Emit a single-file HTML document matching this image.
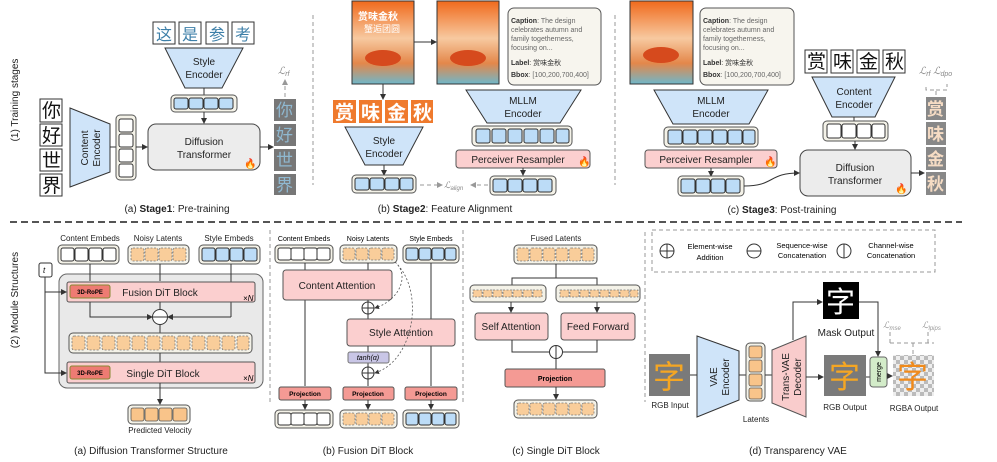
<!DOCTYPE html>
<html><head><meta charset="utf-8"><style>
body{margin:0;background:#fff}
svg{display:block;font-family:"Liberation Sans","Noto Sans CJK SC",sans-serif}
.t{font-size:10px;fill:#222}
.s{font-size:8px;fill:#222}
.o{fill:#f4f2e8;stroke:#555;stroke-width:1}
.w{fill:#fff;stroke:#333;stroke-width:1}
.b{fill:#bcdcf7;stroke:#333;stroke-width:1}
.n{fill:#f9cd9a;stroke:#777;stroke-width:.8;stroke-dasharray:2 1.5}
.enc{fill:#cfe4f9;stroke:#333;stroke-width:1}
.pk{fill:#fbcfcf;stroke:#555;stroke-width:1}
.pj{fill:#f49a94;stroke:#555;stroke-width:1}
.ln{stroke:#333;stroke-width:1;fill:none}
.dl{stroke:#999;stroke-width:1;stroke-dasharray:4 3;fill:none}
.ch{font-size:19px;fill:#111}
</style></head><body>
<svg width="997" height="462" viewBox="0 0 997 462">
<defs><marker id="a" markerWidth="6" markerHeight="6" refX="5" refY="3" orient="auto"><path d="M0,0L6,3L0,6z" fill="#333"/></marker>
<marker id="g" markerWidth="6" markerHeight="6" refX="5" refY="3" orient="auto"><path d="M0,0L6,3L0,6z" fill="#999"/></marker>
<pattern id="ck" width="8" height="8" patternUnits="userSpaceOnUse"><rect width="8" height="8" fill="#eee"/><rect width="4" height="4" fill="#bbb"/><rect x="4" y="4" width="4" height="4" fill="#bbb"/></pattern>
<linearGradient id="pos" x1="0" y1="0" x2="0" y2="1"><stop offset="0" stop-color="#f06a1c"/><stop offset=".45" stop-color="#f7c9a0"/><stop offset=".75" stop-color="#e4874a"/><stop offset="1" stop-color="#6fb7c9"/></linearGradient></defs>

<!-- Section labels -->
<text class="t" transform="translate(18,100) rotate(-90)" text-anchor="middle">(1) Training stages</text>
<text class="t" transform="translate(18,300) rotate(-90)" text-anchor="middle">(2) Module Structures</text>

<!-- Stage 1 -->
<g class="ch"><rect x="40" y="99" width="22" height="23" class="w"/><text x="42" y="117">你</text>
<rect x="40" y="124" width="22" height="22" class="w"/><text x="42" y="142">好</text>
<rect x="40" y="149" width="22" height="22" class="w"/><text x="42" y="167">世</text>
<rect x="40" y="174" width="22" height="22" class="w"/><text x="42" y="192">界</text></g>
<path d="M70,108L110,124L110,172L70,187z" class="enc"/>
<text class="t" transform="translate(88,148) rotate(-90)" text-anchor="middle">Content</text>
<text class="t" transform="translate(100,148) rotate(-90)" text-anchor="middle">Encoder</text>
<line x1="110" y1="147" x2="116" y2="147" class="ln"/>
<rect x="116" y="115" width="20" height="65" rx="4" class="o"/>
<rect x="119" y="119" width="14" height="13" rx="2" class="w"/><rect x="119" y="134" width="14" height="13" rx="2" class="w"/><rect x="119" y="149" width="14" height="13" rx="2" class="w"/><rect x="119" y="164" width="14" height="13" rx="2" class="w"/>
<line x1="136" y1="147" x2="147" y2="147" class="ln" marker-end="url(#a)"/>
<rect x="148" y="124" width="112" height="46" rx="8" fill="#ececec" stroke="#444"/>
<text class="t" x="204" y="145" text-anchor="middle">Diffusion</text><text class="t" x="204" y="158" text-anchor="middle">Transformer</text>
<text x="244" y="167" font-size="10">🔥</text>
<g font-size="16" fill="#3d7fa8"><rect x="153" y="22" width="22" height="22" class="w"/><text x="156" y="40">这</text><rect x="179" y="22" width="22" height="22" class="w"/><text x="182" y="40">是</text><rect x="206" y="22" width="22" height="22" class="w"/><text x="209" y="40">参</text><rect x="232" y="22" width="22" height="22" class="w"/><text x="235" y="40">考</text></g>
<path d="M165,48L243,48L222,88L185,88z" class="enc"/>
<text class="t" x="204" y="65" text-anchor="middle">Style</text><text class="t" x="204" y="78" text-anchor="middle">Encoder</text>
<line x1="204" y1="88" x2="204" y2="95" class="ln"/>
<rect x="171" y="95" width="66" height="17" rx="4" class="o"/>
<rect x="174" y="98" width="14" height="11" rx="2" class="b"/><rect x="189" y="98" width="14" height="11" rx="2" class="b"/><rect x="204" y="98" width="14" height="11" rx="2" class="b"/><rect x="219" y="98" width="14" height="11" rx="2" class="b"/>
<line x1="204" y1="112" x2="204" y2="123" class="ln" marker-end="url(#a)"/>
<line x1="260" y1="147" x2="273" y2="147" class="ln" marker-end="url(#a)"/>
<g font-size="17" fill="#8fb8d0"><rect x="274" y="99" width="22" height="22" fill="#777"/><text x="276" y="116">你</text><rect x="274" y="124" width="22" height="22" fill="#777"/><text x="276" y="141">好</text><rect x="274" y="149" width="22" height="22" fill="#777"/><text x="276" y="166">世</text><rect x="274" y="174" width="22" height="21" fill="#777"/><text x="276" y="191">界</text></g>
<line x1="285" y1="97" x2="285" y2="80" class="dl" marker-end="url(#g)"/>
<text x="278" y="74" font-size="10" font-style="italic" fill="#888">ℒ<tspan font-size="7" dy="2">rf</tspan></text>
<text class="t" x="177" y="212" text-anchor="middle">(a) <tspan font-weight="bold">Stage1</tspan>: Pre-training</text>
<line x1="313" y1="15" x2="313" y2="185" class="dl"/>

<!-- Stage 2 -->
<rect x="352" y="1" width="62" height="83" fill="url(#pos)" stroke="#333"/>
<text x="358" y="20" font-size="10" fill="#fff" font-weight="bold">赏味金秋</text><text x="364" y="32" font-size="9" fill="#fff">蟹逅团圆</text>
<ellipse cx="383" cy="58" rx="18" ry="8" fill="#d64a1d"/>
<line x1="414" y1="42" x2="436" y2="42" class="ln" marker-end="url(#a)"/>
<rect x="437" y="1" width="62" height="83" fill="url(#pos)" stroke="#333"/>
<ellipse cx="468" cy="58" rx="18" ry="8" fill="#d64a1d"/>
<g font-size="7" fill="#333"><rect x="508" y="8" width="93" height="77" rx="6" fill="#f7f5ee" stroke="#555"/>
<text x="511" y="23"><tspan font-weight="bold">Caption</tspan><tspan fill="#666">: The design</tspan></text><text x="511" y="32" fill="#666">celebrates autumn and</text><text x="511" y="41" fill="#666">family togetherness,</text><text x="511" y="50" fill="#666">focusing on...</text>
<text x="511" y="65"><tspan font-weight="bold">Label</tspan>: 赏味金秋</text><text x="511" y="77"><tspan font-weight="bold">Bbox</tspan><tspan fill="#666">: [100,200,700,400]</tspan></text></g>
<line x1="383" y1="84" x2="383" y2="99" class="ln" marker-end="url(#a)"/>
<g font-size="19" fill="#fff" font-weight="bold"><rect x="333" y="100" width="23" height="23" fill="#ef7a2d"/><text x="335" y="119">赏</text><rect x="359" y="100" width="23" height="23" fill="#ef7a2d"/><text x="361" y="119">味</text><rect x="385" y="100" width="23" height="23" fill="#ef7a2d"/><text x="387" y="119">金</text><rect x="411" y="100" width="22" height="23" fill="#ef7a2d"/><text x="413" y="119">秋</text></g>
<path d="M345,127L423,127L403,165L365,165z" class="enc"/>
<text class="t" x="384" y="144" text-anchor="middle">Style</text><text class="t" x="384" y="157" text-anchor="middle">Encoder</text>
<line x1="384" y1="165" x2="384" y2="175" class="ln" marker-end="url(#a)"/>
<rect x="352" y="175" width="64" height="18" rx="4" class="o"/>
<rect x="355" y="178" width="14" height="12" rx="2" class="b"/><rect x="370" y="178" width="14" height="12" rx="2" class="b"/><rect x="385" y="178" width="14" height="12" rx="2" class="b"/><rect x="400" y="178" width="13" height="12" rx="2" class="b"/>
<line x1="420" y1="185" x2="442" y2="185" class="dl" marker-end="url(#g)"/>
<line x1="488" y1="185" x2="471" y2="185" class="dl" marker-end="url(#g)"/>
<text x="444" y="188" font-size="9" font-style="italic" fill="#888">ℒ<tspan font-size="6" dy="2">align</tspan></text>
<path d="M466,90L581,90L560,123L487,123z" class="enc"/>
<text class="t" x="523" y="104" text-anchor="middle">MLLM</text><text class="t" x="523" y="117" text-anchor="middle">Encoder</text>
<rect x="472" y="126" width="100" height="20" rx="4" class="o"/>
<g class="b"><rect x="476" y="129" width="14" height="14" rx="2"/><rect x="492" y="129" width="14" height="14" rx="2"/><rect x="508" y="129" width="14" height="14" rx="2"/><rect x="524" y="129" width="14" height="14" rx="2"/><rect x="540" y="129" width="14" height="14" rx="2"/><rect x="556" y="129" width="13" height="14" rx="2"/></g>
<rect x="456" y="150" width="134" height="18" rx="3" class="pk"/>
<text class="t" x="518" y="163" text-anchor="middle">Perceiver Resampler</text><text x="578" y="165" font-size="10">🔥</text>
<line x1="523" y1="168" x2="523" y2="175" class="ln" marker-end="url(#a)"/>
<rect x="490" y="176" width="66" height="19" rx="4" class="o"/>
<g class="b"><rect x="493" y="179" width="14" height="13" rx="2"/><rect x="508" y="179" width="14" height="13" rx="2"/><rect x="523" y="179" width="14" height="13" rx="2"/><rect x="538" y="179" width="14" height="13" rx="2"/></g>
<text class="t" x="445" y="212" text-anchor="middle">(b) <tspan font-weight="bold">Stage2</tspan>: Feature Alignment</text>
<line x1="615" y1="15" x2="615" y2="185" class="dl"/>

<!-- Stage 3 -->
<rect x="630" y="1" width="63" height="83" fill="url(#pos)" stroke="#333"/>
<ellipse cx="661" cy="55" rx="18" ry="8" fill="#d64a1d"/>
<g font-size="7" fill="#333"><rect x="700" y="8" width="94" height="77" rx="6" fill="#f7f5ee" stroke="#555"/>
<text x="703" y="23"><tspan font-weight="bold">Caption</tspan><tspan fill="#666">: The design</tspan></text><text x="703" y="32" fill="#666">celebrates autumn and</text><text x="703" y="41" fill="#666">family togetherness,</text><text x="703" y="50" fill="#666">focusing on...</text>
<text x="703" y="65"><tspan font-weight="bold">Label</tspan>: 赏味金秋</text><text x="703" y="77"><tspan font-weight="bold">Bbox</tspan><tspan fill="#666">: [100,200,700,400]</tspan></text></g>
<path d="M654,90L768,90L749,124L673,124z" class="enc"/>
<text class="t" x="711" y="104" text-anchor="middle">MLLM</text><text class="t" x="711" y="117" text-anchor="middle">Encoder</text>
<rect x="664" y="127" width="94" height="20" rx="4" class="o"/>
<g class="b"><rect x="668" y="130" width="14" height="14" rx="2"/><rect x="683" y="130" width="14" height="14" rx="2"/><rect x="698" y="130" width="14" height="14" rx="2"/><rect x="713" y="130" width="14" height="14" rx="2"/><rect x="728" y="130" width="14" height="14" rx="2"/><rect x="743" y="130" width="12" height="14" rx="2"/></g>
<rect x="645" y="150" width="132" height="18" rx="3" class="pk"/>
<text class="t" x="706" y="163" text-anchor="middle">Perceiver Resampler</text><text x="764" y="165" font-size="10">🔥</text>
<line x1="711" y1="168" x2="711" y2="176" class="ln" marker-end="url(#a)"/>
<rect x="678" y="176" width="66" height="20" rx="4" class="o"/>
<g class="b"><rect x="681" y="179" width="14" height="14" rx="2"/><rect x="696" y="179" width="14" height="14" rx="2"/><rect x="711" y="179" width="14" height="14" rx="2"/><rect x="726" y="179" width="14" height="14" rx="2"/></g>
<path d="M744,186C775,186 768,173 799,173" class="ln" marker-end="url(#a)"/>
<g class="ch"><rect x="805" y="50" width="22" height="23" class="w"/><text x="807" y="68">赏</text><rect x="831" y="50" width="22" height="23" class="w"/><text x="833" y="68">味</text><rect x="857" y="50" width="22" height="23" class="w"/><text x="859" y="68">金</text><rect x="883" y="50" width="22" height="23" class="w"/><text x="885" y="68">秋</text></g>
<path d="M812,77L895,77L875,117L832,117z" class="enc"/>
<text class="t" x="854" y="95" text-anchor="middle">Content</text><text class="t" x="854" y="108" text-anchor="middle">Encoder</text>
<line x1="854" y1="117" x2="854" y2="121" class="ln"/>
<rect x="823" y="121" width="65" height="20" rx="4" class="o"/>
<g class="w"><rect x="827" y="124" width="14" height="14" rx="2"/><rect x="842" y="124" width="14" height="14" rx="2"/><rect x="857" y="124" width="14" height="14" rx="2"/><rect x="872" y="124" width="13" height="14" rx="2"/></g>
<line x1="855" y1="141" x2="855" y2="149" class="ln" marker-end="url(#a)"/>
<rect x="800" y="150" width="111" height="46" rx="8" fill="#ececec" stroke="#444"/>
<text class="t" x="855" y="171" text-anchor="middle">Diffusion</text><text class="t" x="855" y="184" text-anchor="middle">Transformer</text>
<text x="895" y="192" font-size="10">🔥</text>
<line x1="911" y1="173" x2="924" y2="173" class="ln" marker-end="url(#a)"/>
<g font-size="17" fill="#f6dcc4" font-weight="bold"><rect x="926" y="97" width="20" height="23" fill="#888"/><text x="927" y="115">赏</text><rect x="926" y="122" width="20" height="23" fill="#888"/><text x="927" y="140">味</text><rect x="926" y="147" width="20" height="23" fill="#888"/><text x="927" y="165">金</text><rect x="926" y="172" width="20" height="23" fill="#888"/><text x="927" y="190">秋</text></g>
<path d="M936,95V90H926V84M936,90H947V84" class="dl"/>
<text x="919" y="74" font-size="10" font-style="italic" fill="#888">ℒ<tspan font-size="7" dy="2">rf</tspan><tspan dy="-2"> ℒ</tspan><tspan font-size="7" dy="2">dpo</tspan></text>
<text class="t" x="782" y="213" text-anchor="middle">(c) <tspan font-weight="bold">Stage3</tspan>: Post-training</text>

<line x1="10" y1="222" x2="962" y2="222" stroke="#555" stroke-width="2" stroke-dasharray="7 4"/>

<!-- (a) DiT structure -->
<text class="s" x="90" y="241" text-anchor="middle">Content Embeds</text><text class="s" x="158" y="241" text-anchor="middle">Noisy Latents</text><text class="s" x="229" y="241" text-anchor="middle">Style Embeds</text>
<rect x="58" y="245" width="61" height="19" rx="4" class="o"/><g class="w"><rect x="61" y="248" width="13" height="13" rx="2"/><rect x="75" y="248" width="13" height="13" rx="2"/><rect x="89" y="248" width="13" height="13" rx="2"/><rect x="103" y="248" width="13" height="13" rx="2"/></g>
<rect x="128" y="245" width="61" height="19" rx="4" class="o"/><g class="n"><rect x="131" y="248" width="13" height="13" rx="2"/><rect x="145" y="248" width="13" height="13" rx="2"/><rect x="159" y="248" width="13" height="13" rx="2"/><rect x="173" y="248" width="13" height="13" rx="2"/></g>
<rect x="199" y="245" width="61" height="19" rx="4" class="o"/><g class="b"><rect x="202" y="248" width="13" height="13" rx="2"/><rect x="216" y="248" width="13" height="13" rx="2"/><rect x="230" y="248" width="13" height="13" rx="2"/><rect x="244" y="248" width="13" height="13" rx="2"/></g>
<rect x="39" y="263" width="13" height="14" rx="2" class="w"/><text x="43" y="273" font-size="8" font-style="italic">t</text>
<rect x="59" y="274" width="204" height="114" rx="8" fill="#e9e9e9" stroke="#666"/>
<line x1="90" y1="264" x2="90" y2="281" class="ln"/><line x1="160" y1="264" x2="160" y2="281" class="ln"/><line x1="231" y1="264" x2="231" y2="317" class="ln"/>
<rect x="67" y="282" width="188" height="20" rx="2" class="pk"/>
<rect x="70" y="285" width="40" height="13" rx="2" fill="#ee7b73" stroke="#883"/><text x="90" y="294" font-size="6" text-anchor="middle" font-weight="bold">3D-RoPE</text>
<text class="t" x="160" y="296" text-anchor="middle">Fusion DiT Block</text><text x="243" y="301" font-size="8" font-style="italic">×N</text>
<path d="M45,277V292H66" class="ln" marker-end="url(#a)"/><path d="M45,292V373H66" class="ln" marker-end="url(#a)"/>
<path d="M90,302V317H152" class="ln" marker-end="url(#a)"/><path d="M231,317H168" class="ln" marker-end="url(#a)"/>
<circle cx="160" cy="317" r="7.5" fill="#fff" stroke="#333"/><line x1="152.5" y1="317" x2="167.5" y2="317" stroke="#333"/>
<line x1="160" y1="302" x2="160" y2="309" class="ln"/><line x1="160" y1="325" x2="160" y2="333" class="ln"/>
<rect x="69" y="333" width="183" height="20" rx="4" class="o"/>
<g class="n"><rect x="72" y="336" width="13" height="14" rx="2"/><rect x="87" y="336" width="13" height="14" rx="2"/><rect x="102" y="336" width="13" height="14" rx="2"/><rect x="117" y="336" width="13" height="14" rx="2"/><rect x="132" y="336" width="13" height="14" rx="2"/><rect x="147" y="336" width="13" height="14" rx="2"/><rect x="162" y="336" width="13" height="14" rx="2"/><rect x="177" y="336" width="13" height="14" rx="2"/><rect x="192" y="336" width="13" height="14" rx="2"/><rect x="207" y="336" width="13" height="14" rx="2"/><rect x="222" y="336" width="13" height="14" rx="2"/><rect x="237" y="336" width="12" height="14" rx="2"/></g>
<line x1="160" y1="353" x2="160" y2="362" class="ln"/>
<rect x="67" y="362" width="188" height="21" rx="2" class="pk"/>
<rect x="70" y="366" width="40" height="13" rx="2" fill="#ee7b73" stroke="#883"/><text x="90" y="375" font-size="6" text-anchor="middle" font-weight="bold">3D-RoPE</text>
<text class="t" x="163" y="377" text-anchor="middle">Single DiT Block</text><text x="243" y="381" font-size="8" font-style="italic">×N</text>
<line x1="160" y1="383" x2="160" y2="404" class="ln" marker-end="url(#a)"/>
<rect x="128" y="405" width="62" height="19" rx="4" class="o"/><g fill="#f9c48a" stroke="#555" stroke-width=".8"><rect x="131" y="408" width="13" height="13" rx="2"/><rect x="145" y="408" width="13" height="13" rx="2"/><rect x="159" y="408" width="13" height="13" rx="2"/><rect x="173" y="408" width="14" height="13" rx="2"/></g>
<text class="s" x="160" y="433" text-anchor="middle">Predicted Velocity</text>
<text class="t" x="151" y="454" text-anchor="middle">(a) Diffusion Transformer Structure</text>
<line x1="270" y1="230" x2="270" y2="402" class="dl"/>

<!-- (b) Fusion DiT block -->
<text x="304" y="241" font-size="7" text-anchor="middle">Content Embeds</text><text x="368" y="241" font-size="7" text-anchor="middle">Noisy Latents</text><text x="431" y="241" font-size="7" text-anchor="middle">Style Embeds</text>
<rect x="275" y="245" width="58" height="18" rx="4" class="o"/><g class="w"><rect x="278" y="248" width="13" height="12" rx="2"/><rect x="291" y="248" width="13" height="12" rx="2"/><rect x="304" y="248" width="13" height="12" rx="2"/><rect x="317" y="248" width="13" height="12" rx="2"/></g>
<rect x="340" y="245" width="57" height="18" rx="4" class="o"/><g class="n"><rect x="343" y="248" width="12" height="12" rx="2"/><rect x="356" y="248" width="12" height="12" rx="2"/><rect x="369" y="248" width="12" height="12" rx="2"/><rect x="382" y="248" width="12" height="12" rx="2"/></g>
<rect x="403" y="245" width="56" height="18" rx="4" class="o"/><g class="b"><rect x="406" y="248" width="12" height="12" rx="2"/><rect x="419" y="248" width="12" height="12" rx="2"/><rect x="432" y="248" width="12" height="12" rx="2"/><rect x="445" y="248" width="11" height="12" rx="2"/></g>
<line x1="305" y1="263" x2="305" y2="386" class="ln"/><line x1="431" y1="263" x2="431" y2="386" class="ln"/>
<line x1="368" y1="263" x2="368" y2="270" class="ln"/>
<rect x="283" y="270" width="109" height="30" rx="3" class="pk"/><text class="t" x="337" y="289" text-anchor="middle">Content Attention</text>
<line x1="368" y1="300" x2="368" y2="319" class="ln"/>
<circle cx="368" cy="308" r="6" fill="#fff" stroke="#333"/><path d="M362,308h12M368,302v12" stroke="#333"/>
<rect x="347" y="319" width="108" height="27" rx="3" class="pk"/><text class="t" x="401" y="336" text-anchor="middle">Style Attention</text>
<line x1="368" y1="346" x2="368" y2="386" class="ln"/>
<rect x="348" y="352" width="41" height="11" rx="2" fill="#c9c6e6" stroke="#777"/><text x="368" y="360" font-size="7" font-style="italic" text-anchor="middle">tanh(α)</text>
<circle cx="368" cy="373" r="6" fill="#fff" stroke="#333"/><path d="M362,373h12M368,367v12" stroke="#333"/>
<path d="M395,262C410,275 400,300 375,308" stroke="#555" stroke-width=".8" stroke-dasharray="2 2" fill="none" marker-end="url(#a)"/>
<path d="M395,262C425,290 415,360 375,373" stroke="#555" stroke-width=".8" stroke-dasharray="2 2" fill="none" marker-end="url(#a)"/>
<rect x="279" y="387" width="52" height="13" rx="2" class="pj"/><text x="305" y="396" font-size="6.5" text-anchor="middle" font-weight="bold">Projection</text>
<rect x="343" y="387" width="51" height="13" rx="2" class="pj"/><text x="368" y="396" font-size="6.5" text-anchor="middle" font-weight="bold">Projection</text>
<rect x="405" y="387" width="52" height="13" rx="2" class="pj"/><text x="431" y="396" font-size="6.5" text-anchor="middle" font-weight="bold">Projection</text>
<line x1="305" y1="400" x2="305" y2="409" class="ln" marker-end="url(#a)"/><line x1="368" y1="400" x2="368" y2="409" class="ln" marker-end="url(#a)"/><line x1="431" y1="400" x2="431" y2="409" class="ln" marker-end="url(#a)"/>
<rect x="275" y="410" width="58" height="18" rx="4" class="o"/><g class="w"><rect x="278" y="413" width="13" height="12" rx="2"/><rect x="291" y="413" width="13" height="12" rx="2"/><rect x="304" y="413" width="13" height="12" rx="2"/><rect x="317" y="413" width="13" height="12" rx="2"/></g>
<rect x="340" y="410" width="57" height="18" rx="4" class="o"/><g class="n"><rect x="343" y="413" width="12" height="12" rx="2"/><rect x="356" y="413" width="12" height="12" rx="2"/><rect x="369" y="413" width="12" height="12" rx="2"/><rect x="382" y="413" width="12" height="12" rx="2"/></g>
<rect x="403" y="410" width="56" height="18" rx="4" class="o"/><g class="b"><rect x="406" y="413" width="12" height="12" rx="2"/><rect x="419" y="413" width="12" height="12" rx="2"/><rect x="432" y="413" width="12" height="12" rx="2"/><rect x="445" y="413" width="11" height="12" rx="2"/></g>
<text class="t" x="368" y="454" text-anchor="middle">(b) Fusion DiT Block</text>
<line x1="463" y1="230" x2="463" y2="402" class="dl"/>
<line x1="645" y1="232" x2="645" y2="402" class="dl"/>

<!-- (c) Single DiT -->
<text class="s" x="556" y="241" text-anchor="middle">Fused Latents</text>
<rect x="514" y="245" width="83" height="19" rx="4" class="o"/>
<g class="n"><rect x="517" y="248" width="12" height="13" rx="2"/><rect x="530" y="248" width="12" height="13" rx="2"/><rect x="543" y="248" width="12" height="13" rx="2"/><rect x="556" y="248" width="12" height="13" rx="2"/><rect x="569" y="248" width="12" height="13" rx="2"/><rect x="582" y="248" width="12" height="13" rx="2"/></g>
<path d="M556,264V278M512,285V278H597V285" class="ln"/>
<rect x="470" y="285" width="76" height="17" rx="4" class="o"/>
<g class="n"><rect x="473" y="290" width="9" height="7"/><rect x="483" y="290" width="9" height="7"/><rect x="493" y="290" width="9" height="7"/><rect x="503" y="290" width="9" height="7"/><rect x="513" y="290" width="9" height="7"/><rect x="523" y="290" width="9" height="7"/><rect x="533" y="290" width="9" height="7"/></g>
<rect x="556" y="285" width="84" height="17" rx="4" class="o"/>
<g class="n"><rect x="560" y="290" width="9" height="7"/><rect x="570" y="290" width="9" height="7"/><rect x="580" y="290" width="9" height="7"/><rect x="590" y="290" width="9" height="7"/><rect x="600" y="290" width="9" height="7"/><rect x="610" y="290" width="9" height="7"/><rect x="620" y="290" width="9" height="7"/><rect x="630" y="290" width="8" height="7"/></g>
<line x1="511" y1="302" x2="511" y2="312" class="ln" marker-end="url(#a)"/><line x1="597" y1="302" x2="597" y2="312" class="ln" marker-end="url(#a)"/>
<rect x="475" y="313" width="73" height="27" rx="3" class="pk"/><text class="t" x="511" y="330" text-anchor="middle">Self Attention</text>
<rect x="561" y="313" width="74" height="27" rx="3" class="pk"/><text class="t" x="598" y="330" text-anchor="middle">Feed Forward</text>
<path d="M512,340V352H549M597,340V352H563" class="ln"/>
<circle cx="556" cy="352" r="6.5" fill="#fff" stroke="#333"/><line x1="556" y1="345.5" x2="556" y2="358.5" stroke="#333"/>
<line x1="556" y1="358" x2="556" y2="369" class="ln"/>
<rect x="505" y="369" width="100" height="18" rx="2" class="pj"/><text x="555" y="381" font-size="7" text-anchor="middle" font-weight="bold">Projection</text>
<line x1="556" y1="387" x2="556" y2="399" class="ln" marker-end="url(#a)"/>
<rect x="514" y="400" width="83" height="18" rx="4" class="o"/>
<g class="n"><rect x="517" y="403" width="12" height="12" rx="2"/><rect x="530" y="403" width="12" height="12" rx="2"/><rect x="543" y="403" width="12" height="12" rx="2"/><rect x="556" y="403" width="12" height="12" rx="2"/><rect x="569" y="403" width="12" height="12" rx="2"/><rect x="582" y="403" width="12" height="12" rx="2"/></g>
<text class="t" x="556" y="454" text-anchor="middle">(c) Single DiT Block</text>

<!-- Legend -->
<rect x="652" y="230" width="283" height="42" class="dl"/>
<circle cx="667" cy="251" r="7" fill="#fff" stroke="#333"/><path d="M660,251h14M667,244v14" stroke="#333"/>
<text x="710" y="249" font-size="7.5" text-anchor="middle">Element-wise</text><text x="710" y="260" font-size="7.5" text-anchor="middle">Addition</text>
<circle cx="754" cy="251" r="7" fill="#fff" stroke="#333"/><path d="M747,251h14" stroke="#333"/>
<text x="802" y="248" font-size="7.5" text-anchor="middle">Sequence-wise</text><text x="802" y="258" font-size="7.5" text-anchor="middle">Concatenation</text>
<circle cx="844" cy="251" r="7" fill="#fff" stroke="#333"/><path d="M844,244v14" stroke="#333"/>
<text x="891" y="248" font-size="7.5" text-anchor="middle">Channel-wise</text><text x="891" y="258" font-size="7.5" text-anchor="middle">Concatenation</text>

<!-- (d) Transparency VAE -->
<rect x="649" y="354" width="41" height="42" fill="#7a7a7a"/><text x="653" y="388" font-size="32" fill="#f5a623">字</text>
<text class="s" x="670" y="408" text-anchor="middle">RGB Input</text>
<path d="M697,336L739,351L739,400L697,417z" class="enc"/>
<text class="t" transform="translate(717,377) rotate(-90)" text-anchor="middle">VAE</text><text class="t" transform="translate(729,377) rotate(-90)" text-anchor="middle">Encoder</text>
<line x1="690" y1="375" x2="697" y2="375" class="ln"/><line x1="739" y1="375" x2="746" y2="375" class="ln"/>
<rect x="746" y="343" width="19" height="58" rx="4" class="o"/>
<g fill="#f9c48a" stroke="#555" stroke-width=".8"><rect x="749" y="346" width="13" height="12" rx="2"/><rect x="749" y="360" width="13" height="12" rx="2"/><rect x="749" y="374" width="13" height="12" rx="2"/><rect x="749" y="388" width="13" height="11" rx="2"/></g>
<text class="s" x="756" y="422" text-anchor="middle">Latents</text>
<line x1="765" y1="375" x2="772" y2="375" class="ln"/>
<path d="M772,350L806,336L806,417L772,403z" fill="#f9cccc" stroke="#555"/>
<text class="t" transform="translate(789,377) rotate(-90)" text-anchor="middle">Trans-VAE</text><text class="t" transform="translate(801,377) rotate(-90)" text-anchor="middle">Decoder</text>
<path d="M793,340V302H822" class="ln" marker-end="url(#a)"/>
<line x1="806" y1="377" x2="823" y2="377" class="ln" marker-end="url(#a)"/>
<rect x="823" y="282" width="36" height="37" fill="#000"/><text x="826" y="312" font-size="29" fill="#fff">字</text>
<text class="t" x="846" y="336" text-anchor="middle">Mask Output</text>
<path d="M859,302H878V356" class="ln" marker-end="url(#a)"/>
<rect x="824" y="355" width="42" height="41" fill="#7a7a7a"/><text x="829" y="388" font-size="31" fill="#f5a623">字</text>
<text class="s" x="845" y="410" text-anchor="middle">RGB Output</text>
<line x1="866" y1="377" x2="870" y2="377" class="ln"/>
<rect x="870" y="357" width="17" height="30" rx="3" fill="#d3ecc9" stroke="#666"/><text transform="translate(881,372) rotate(-90)" font-size="7" text-anchor="middle">merge</text>
<line x1="887" y1="376" x2="892" y2="376" class="ln" marker-end="url(#a)"/>
<rect x="893" y="355" width="41" height="41" fill="url(#ck)"/><text x="897" y="388" font-size="31" fill="#f08a1a">字</text>
<text class="s" x="914" y="411" text-anchor="middle">RGBA Output</text>
<path d="M913,354V343M890,343H934M890,343V332M928,343V332" class="dl"/>
<text x="883" y="328" font-size="9" font-style="italic" fill="#999">ℒ<tspan font-size="6" dy="2">mse</tspan></text><text x="922" y="328" font-size="9" font-style="italic" fill="#999">ℒ<tspan font-size="6" dy="2">lpips</tspan></text>
<text class="t" x="798" y="454" text-anchor="middle">(d) Transparency VAE</text>
</svg>
</body></html>
